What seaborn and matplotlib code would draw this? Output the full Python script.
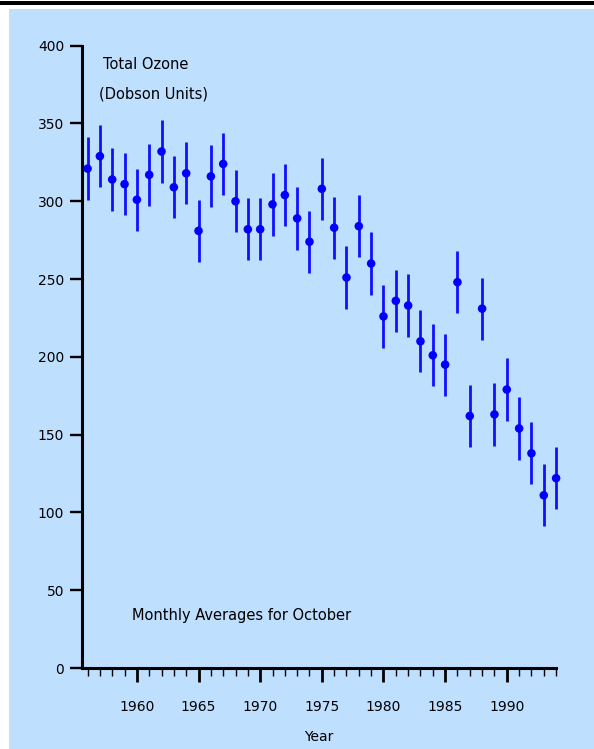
import matplotlib
matplotlib.use("Agg")
import matplotlib.pyplot as plt
from matplotlib.patches import Rectangle
from matplotlib.ticker import MultipleLocator
import seaborn as sns
import pandas as pd

# October monthly mean total ozone (Dobson Units)
years = list(range(1956, 1995))
ozone = [321, 329, 314, 311, 301, 317, 332, 309, 318, 281,
         316, 324, 300, 282, 282, 298, 304, 289, 274, 308,
         283, 251, 284, 260, 226, 236, 233, 210, 201, 195,
         248, 162, 231, 163, 179, 154, 138, 111, 122]
err = [20] * len(years)

y_ticks = list(range(0, 401, 50))
x_ticks = list(range(1960, 1991, 5))

df = pd.DataFrame({"Year": years, "Ozone": ozone, "Err": err})

sns.set_theme(style="ticks")
plt.rcParams["font.family"] = ["DejaVu Sans"]

bg = "#BFDFFF"
fig = plt.figure(figsize=(5.94, 7.49), dpi=100, facecolor="white")

# light blue panel and black rule along the top
fig.add_artist(Rectangle((9 / 594, 0), 1, 740 / 749, transform=fig.transFigure,
                         facecolor=bg, edgecolor="none", zorder=0))
fig.add_artist(Rectangle((0, 744.5 / 749), 1, 3.5 / 749, transform=fig.transFigure,
                         facecolor="black", edgecolor="none", zorder=0))

ax = fig.add_axes([82 / 594, 81 / 749, 474.1 / 594, 622.3 / 749])
ax.set_facecolor("none")

ax.errorbar(df["Year"], df["Ozone"], yerr=df["Err"], fmt="none",
            ecolor="#1010FF", elinewidth=2.0, capsize=0, clip_on=False, zorder=2)
sns.scatterplot(data=df, x="Year", y="Ozone", ax=ax, color="#0000FF",
                s=38, edgecolor="none", linewidth=0, clip_on=False, zorder=3)

ax.set_xlim(1955.55, 1994)
ax.set_ylim(0, 400)

ax.set_yticks(y_ticks)
ax.set_yticklabels([str(v) for v in y_ticks])
ax.set_xticks(x_ticks)
ax.set_xticklabels([str(v) for v in x_ticks])
ax.xaxis.set_minor_locator(MultipleLocator(1))

for side in ["top", "right"]:
    ax.spines[side].set_visible(False)
for side in ["left", "bottom"]:
    ax.spines[side].set_linewidth(2.2)
    ax.spines[side].set_color("black")

ax.tick_params(axis="y", which="major", direction="out", length=8.6, width=1.7,
               pad=4.3, labelsize=10, colors="black")
ax.tick_params(axis="x", which="major", direction="out", length=10, width=2.0,
               pad=13, labelsize=10, colors="black")
ax.tick_params(axis="x", which="minor", direction="out", length=5.8, width=1.0,
               colors="black")
ax.tick_params(axis="y", which="minor", left=False)

ax.set_xlabel("Year", fontsize=10, color="black")
ax.xaxis.set_label_coords(0.5, -0.111)
ax.xaxis.label.set_va("center")
ax.set_ylabel("")

ax.text(0.045, 0.969, "Total Ozone", transform=ax.transAxes, fontsize=10.5,
        ha="left", va="center", color="black")
ax.text(0.0365, 0.922, "(Dobson Units)", transform=ax.transAxes, fontsize=10.5,
        ha="left", va="center", color="black")
ax.text(0.105, 0.085, "Monthly Averages for October", transform=ax.transAxes,
        fontsize=10.5, ha="left", va="center", color="black")

fig.savefig("out.png", dpi=100, facecolor="white")
